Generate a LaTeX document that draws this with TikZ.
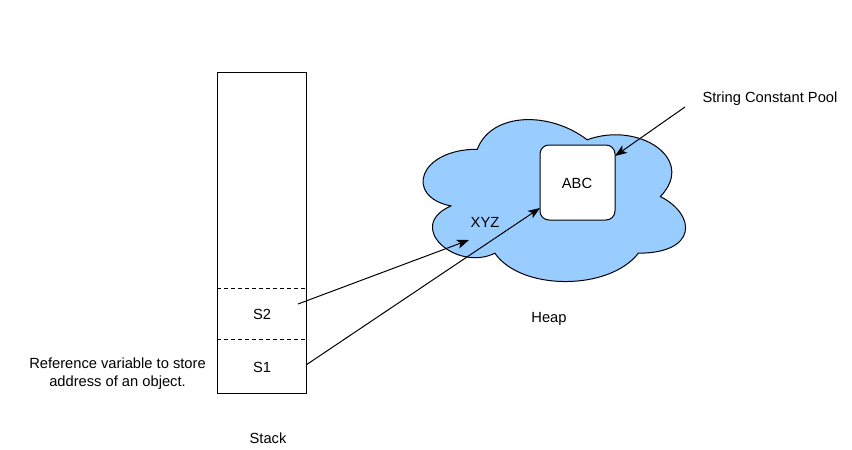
\documentclass[tikz,border=0pt]{standalone}
\usepackage{fontspec}
\setmainfont{Liberation Sans}
\usetikzlibrary{arrows.meta}
\definecolor{cloudblue}{HTML}{99CCFF}
\tikzset{
  lbl/.style={font=\fontsize{14.7}{18}\selectfont, inner sep=0pt, align=center},
  stackbox/.style={draw, line width=1pt, inner sep=0pt, minimum width=89pt, minimum height=321pt},
  cellsep/.style={dashed, dash pattern=on 3.5pt off 3.5pt, line width=1pt},
  poolbox/.style={draw, line width=1pt, fill=white, rounded corners=9pt, inner sep=0pt, minimum width=75pt, minimum height=75pt},
  cloudshape/.style={draw, line width=1pt, fill=cloudblue},
  ptr/.style={line width=1pt, -{Stealth[length=12pt, width=9pt, inset=3pt]}}
}
\begin{document}
\begin{tikzpicture}[x=1pt,y=-1pt]
\useasboundingbox (0,0) rectangle (852,450);
% stack
\node[stackbox] (stack) at (261.5,232.5) {};
\coordinate (d2l) at (217,288); \coordinate (d2r) at (306,288);
\coordinate (d1l) at (217,339); \coordinate (d1r) at (306,339);
\draw[cellsep] (d2l) -- (d2r);
\draw[cellsep] (d1l) -- (d1r);
\node[lbl] (s2) at (262,314) {S2};
\node[lbl] (s1) at (262,367) {S1};
\node[lbl] (stacklbl) at (268,438) {Stack};
\node[lbl] (reflbl) at (117.5,374) {Reference variable to store\\address of an object.};
% heap cloud (draw.io cloud path), box x0=404,y0=102,w=293,h=189
\begin{scope}[shift={(404,102)}, x=293pt, y=-189pt]
\draw[cloudshape] (0.25,0.25)
  .. controls (0.05,0.25) and (0,0.5) .. (0.16,0.55)
  .. controls (0,0.66) and (0.18,0.9) .. (0.31,0.8)
  .. controls (0.4,1) and (0.7,1) .. (0.8,0.8)
  .. controls (1,0.8) and (1,0.6) .. (0.875,0.5)
  .. controls (1,0.3) and (0.8,0.1) .. (0.625,0.2)
  .. controls (0.5,0.05) and (0.3,0.05) .. (0.25,0.25) -- cycle;
\end{scope}
\node[poolbox] (abc) at (577.5,182.5) {};
\node[lbl] (abclbl) at (577,183) {ABC};
\node[lbl] (xyz) at (485,222) {XYZ};
\node[lbl] (heap) at (549,319) {Heap};
\node[lbl] (pool) at (770,99) {String Constant Pool};
% pointers
\coordinate (s2out) at (298,304);
\coordinate (xyzin) at (469,240);
\coordinate (s1out) at (306,365);
\coordinate (abcin) at (540,208);
\coordinate (poolout) at (685,107);
\coordinate (abcpool) at (615,156);
\draw[ptr] (s2out) -- (xyzin);
\draw[ptr] (s1out) -- (abcin);
\draw[ptr] (poolout) -- (abcpool);
\end{tikzpicture}
\end{document}
